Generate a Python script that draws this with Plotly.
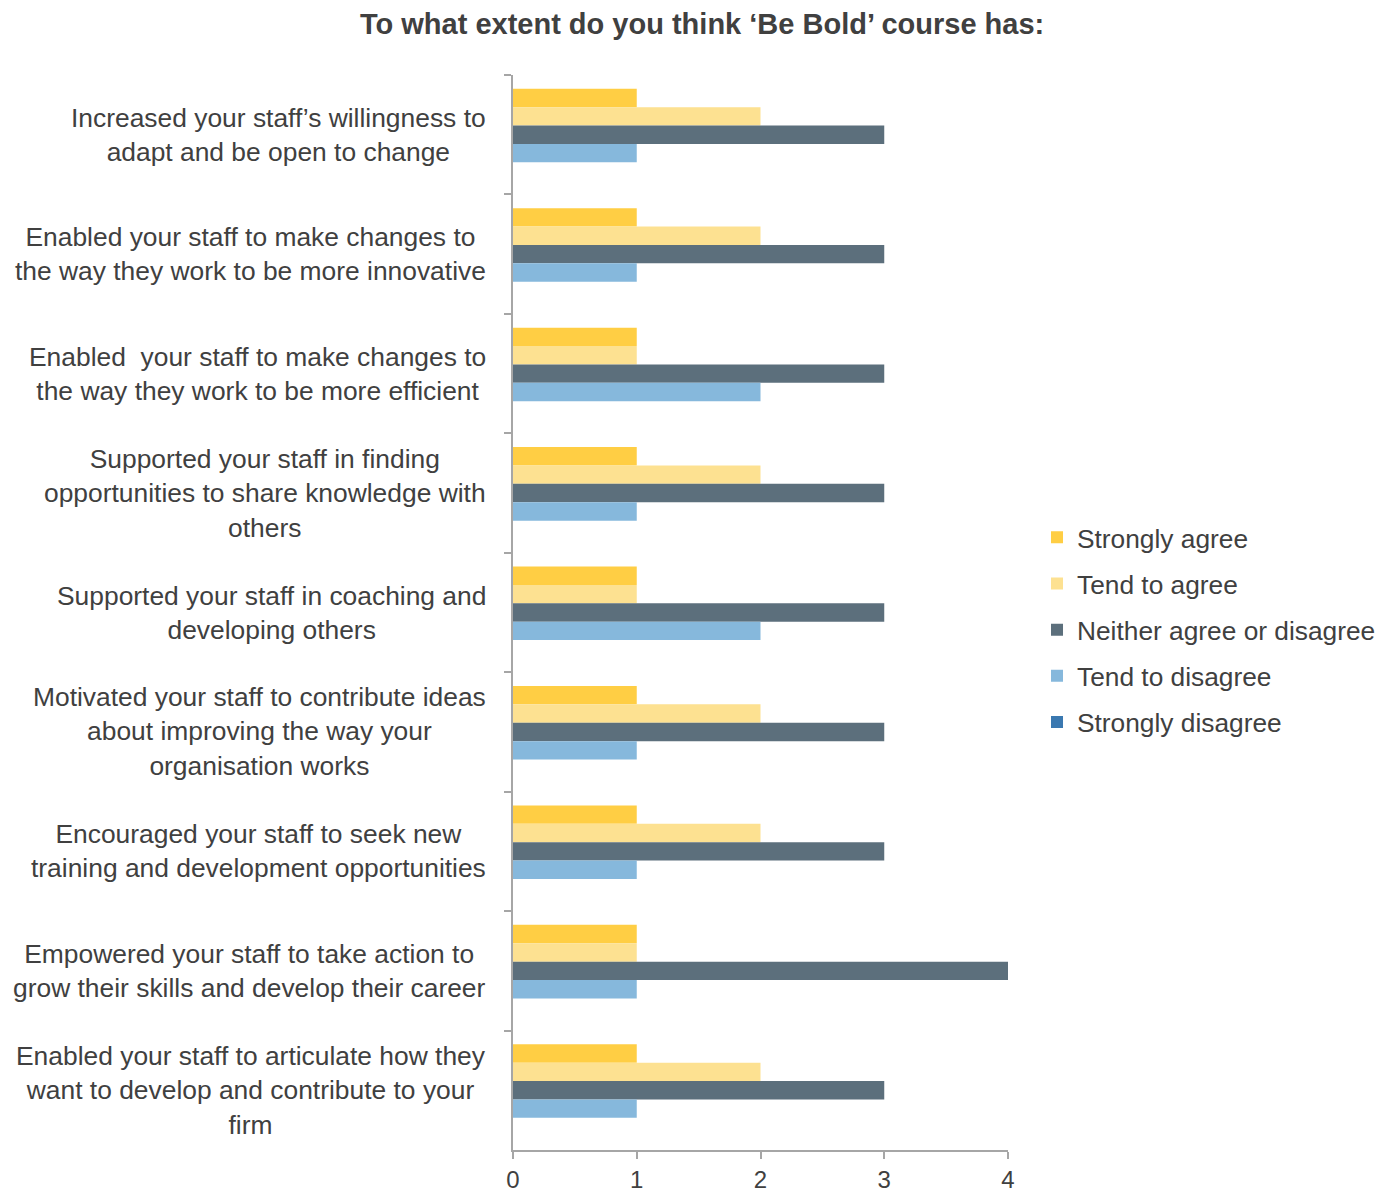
import plotly.graph_objects as go

# Survey statements (one row of bars each)
statements = [
    "Increased your staff’s willingness to<br>adapt and be open to change",
    "Enabled your staff to make changes to<br>the way they work to be more innovative",
    "Enabled\u00a0 your staff to make changes to<br>the way they work to be more efficient",
    "Supported your staff in finding<br>opportunities to share knowledge with<br>others",
    "Supported your staff in coaching and<br>developing others",
    "Motivated your staff to contribute ideas<br>about improving the way your<br>organisation works",
    "Encouraged your staff to seek new<br>training and development opportunities",
    "Empowered your staff to take action to<br>grow their skills and develop their career",
    "Enabled your staff to articulate how they<br>want to develop and contribute to your<br>firm",
]

# Response counts per answer option
strongly_agree = [1, 1, 1, 1, 1, 1, 1, 1, 1]
tend_to_agree = [2, 2, 1, 2, 1, 2, 2, 1, 2]
neither = [3, 3, 3, 3, 3, 3, 3, 4, 3]
tend_to_disagree = [1, 1, 2, 1, 2, 1, 1, 1, 1]
strongly_disagree = [0, 0, 0, 0, 0, 0, 0, 0, 0]

series_names = ["Strongly agree", "Tend to agree", "Neither agree or disagree",
                "Tend to disagree", "Strongly disagree"]
series_values = [strongly_agree, tend_to_agree, neither, tend_to_disagree, strongly_disagree]
series_colors = ["#FFCE44", "#FDE191", "#5C6F7C", "#86B8DC", "#3A78B0"]

x_ticks = [0, 1, 2, 3, 4]

TEXT = "#404040"
AXIS = "#A6A6A6"
FONT = "Liberation Sans, Arial, sans-serif"

fig = go.Figure()
for name, vals, col in zip(series_names, series_values, series_colors):
    fig.add_trace(go.Bar(
        y=statements, x=vals, name=name, orientation="h",
        marker=dict(color=col, line=dict(width=0)),
        legendgroup=name,
    ))

# Centred multi-line category labels to the left of the axis
for s in statements:
    fig.add_annotation(
        x=0, xref="paper", y=s, yref="y",
        text=s, showarrow=False, align="center",
        xanchor="right", yanchor="middle", xshift=-25,
        font=dict(family=FONT, size=26.4, color=TEXT),
    )

fig.update_layout(
    width=1393, height=1195,
    margin=dict(l=513, r=385, t=75, b=45, autoexpand=False),
    paper_bgcolor="white", plot_bgcolor="white",
    barmode="group", bargap=0.23, bargroupgap=0,
    font=dict(family=FONT, size=26, color=TEXT),
    title=dict(
        text="<b>To what extent do you think ‘Be Bold’ course has:</b>",
        x=0.504, xanchor="center", y=0.98, yanchor="middle",
        font=dict(family=FONT, size=29, color=TEXT),
    ),
    legend=dict(
        x=1.0586, xanchor="left", y=0.484, yanchor="middle",
        font=dict(family=FONT, size=26.3, color=TEXT),
        traceorder="grouped", tracegroupgap=9,
        itemwidth=30, bgcolor="rgba(0,0,0,0)",
    ),
    showlegend=True,
)

fig.update_xaxes(
    range=[0, 4], tickvals=x_ticks, ticktext=[str(v) for v in x_ticks],
    showgrid=False, zeroline=False, automargin=False,
    showline=True, linecolor=AXIS, linewidth=2,
    ticks="outside", ticklen=7, tickcolor=AXIS, tickwidth=2,
    tickfont=dict(family=FONT, size=24, color=TEXT),
)
fig.update_yaxes(
    autorange="reversed", categoryorder="array", categoryarray=statements,
    showticklabels=False, showgrid=False, zeroline=False, automargin=False,
    showline=True, linecolor=AXIS, linewidth=2,
    ticks="outside", tickson="boundaries", ticklen=7, tickcolor=AXIS, tickwidth=2,
)

fig.write_html("out.html")
